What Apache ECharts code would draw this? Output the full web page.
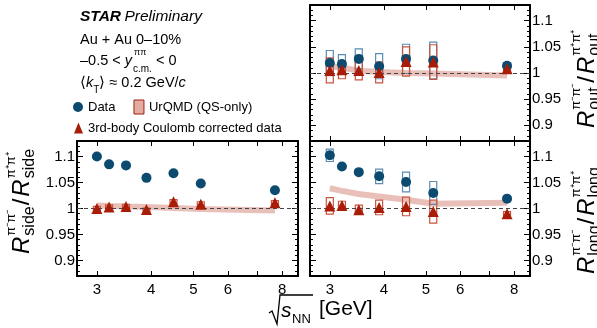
<!DOCTYPE html>
<html>
<head>
<meta charset="utf-8">
<script src="https://cdn.jsdelivr.net/npm/echarts@6/dist/echarts.min.js"></script>
<style>
  html, body { margin: 0; padding: 0; background: #fff; }
  #main { width: 597px; height: 328px; }
</style>
</head>
<body>
<div id="main"></div>
<script>
// HBT radii ratio pi-pi- / pi+pi+ vs collision energy, three panels (out, side, long)
const FONT = '"Liberation Sans", Arial, sans-serif';

const energies = [3.0, 3.2, 3.5, 3.9, 4.5, 5.2, 7.7];

const outData = [1.019, 1.017, 1.027, 1.013, 1.027, 1.024, 1.014];
const outDataSys = [0.024, 0.018, 0.019, 0.024, 0.028, 0.035, 0.006];
const outCorr = [1.005, 1.006, 1.005, 1.001, 1.022, 1.021, 1.008];
const outCorrSys = [0.024, 0.017, 0.018, 0.020, 0.028, 0.033, 0.005];
const outUrqmd = [1.0135, 1.010, 1.0045, 1.002, 1.000, 0.999, 0.995];

const sideData = [1.100, 1.085, 1.083, 1.059, 1.068, 1.048, 1.035];
const sideDataSys = [0, 0, 0, 0, 0, 0, 0];
const sideCorr = [1.000, 1.003, 1.004, 0.998, 1.013, 1.008, 1.011];
const sideCorrSys = [0.004, 0.004, 0.004, 0.003, 0.004, 0.005, 0.004];
const sideUrqmd = [1.006, 1.005, 1.004, 1.003, 1.001, 0.999, 0.996];

const longData = [1.1025, 1.081, 1.070, 1.062, 1.051, 1.030, 1.019];
const longDataSys = [0.012, 0.004, 0.004, 0.014, 0.019, 0.022, 0.003];
const longCorr = [1.005, 1.006, 0.9975, 1.002, 1.004, 0.994, 0.990];
const longCorrSys = [0.016, 0.008, 0.009, 0.014, 0.018, 0.022, 0.004];
const longUrqmd = [1.039, 1.034, 1.028, 1.023, 1.017, 1.009, 1.011];

const xTicks = [3, 4, 5, 6, 7, 8];
const xLabels = [3, 4, 5, 6, 8];
const yLabels = [0.9, 0.95, 1, 1.05, 1.1];
const yMinor = [0.87, 0.88, 0.89, 0.9, 0.91, 0.92, 0.93, 0.94, 0.95, 0.96, 0.97, 0.98, 0.99, 1,
  1.01, 1.02, 1.03, 1.04, 1.05, 1.06, 1.07, 1.08, 1.09, 1.1, 1.11, 1.12, 1.13];

const BLUE = '#0c4a70';
const RED = '#a81c08';
const BLUE_BOX = '#5a8cb4';
const RED_BOX = '#c9553f';
const BAND = 'rgba(214,140,128,0.55)';

const lg = v => Math.log10(v);

const panels = [
  { grid: { left: 310, top: 5, width: 220, height: 136 }, xLab: false, ySide: 'right',
    data: outData, dataSys: outDataSys, corr: outCorr, corrSys: outCorrSys, urqmd: outUrqmd },
  { grid: { left: 77, top: 141, width: 221, height: 135 }, xLab: true, ySide: 'left',
    data: sideData, dataSys: sideDataSys, corr: sideCorr, corrSys: sideCorrSys, urqmd: sideUrqmd },
  { grid: { left: 310, top: 141, width: 220, height: 135 }, xLab: true, ySide: 'right',
    data: longData, dataSys: longDataSys, corr: longCorr, corrSys: longCorrSys, urqmd: longUrqmd }
];

function xAxisCfg(gi, pos, showLabel) {
  return {
    type: 'value', gridIndex: gi, position: pos, min: lg(2.7), max: lg(8.7),
    axisLine: { show: true, onZero: false, lineStyle: { color: '#000', width: 2 } },
    axisTick: { show: true, inside: true, length: 5, customValues: xTicks.map(lg),
      lineStyle: { color: '#000', width: 1 } },
    axisLabel: { show: showLabel, customValues: xLabels.map(lg), margin: 6,
      formatter: v => String(Math.round(Math.pow(10, v))),
      color: '#000', fontSize: 15, fontFamily: FONT },
    splitLine: { show: false }
  };
}

function yAxisCfg(gi, pos, minor, showLabel) {
  return {
    type: 'value', gridIndex: gi, position: pos, min: 0.87, max: 1.13,
    axisLine: { show: !minor, onZero: false, lineStyle: { color: '#000', width: 2 } },
    axisTick: { show: true, inside: true, length: minor ? 3 : 6,
      customValues: minor ? yMinor : yLabels, lineStyle: { color: '#000', width: 1 } },
    axisLabel: { show: showLabel, customValues: yLabels, margin: 2,
      color: '#000', fontSize: 15, fontFamily: FONT },
    splitLine: { show: false }
  };
}

function boxSeries(name, xi, yi, vals, sys, color) {
  return {
    type: 'custom', name: name, xAxisIndex: xi, yAxisIndex: yi, silent: true, z: 3,
    data: energies.map((e, k) => [lg(e), vals[k], sys[k]]).filter(d => d[2] > 0),
    renderItem: (params, api) => {
      const top = api.coord([api.value(0), api.value(1) + api.value(2)]);
      const bot = api.coord([api.value(0), api.value(1) - api.value(2)]);
      return {
        type: 'rect',
        shape: { x: top[0] - 3.5, y: top[1], width: 7, height: bot[1] - top[1] },
        style: { fill: 'none', stroke: color, lineWidth: 1.2 }
      };
    }
  };
}

const grids = [], xAxes = [], yAxes = [], series = [];
panels.forEach((p, i) => {
  grids.push(p.grid);
  xAxes.push(xAxisCfg(i, 'bottom', p.xLab));
  xAxes.push(xAxisCfg(i, 'top', false));
  yAxes.push(yAxisCfg(i, 'left', false, p.ySide === 'left'));
  yAxes.push(yAxisCfg(i, 'left', true, false));
  yAxes.push(yAxisCfg(i, 'right', false, p.ySide === 'right'));
  yAxes.push(yAxisCfg(i, 'right', true, false));
  const xi = 2 * i, yi = 4 * i;
  series.push({
    name: 'UrQMD (QS-only)', type: 'line', xAxisIndex: xi, yAxisIndex: yi,
    data: energies.map((e, k) => [lg(e), p.urqmd[k]]),
    showSymbol: false, smooth: false, z: 1,
    lineStyle: { color: BAND, width: 6 },
    itemStyle: { color: BAND },
    markLine: {
      silent: true, symbol: 'none', label: { show: false },
      lineStyle: { color: '#444', type: [4, 3], width: 1 },
      data: [{ yAxis: 1 }]
    }
  });
  series.push(boxSeries('dataSys', xi, yi, p.data, p.dataSys, BLUE_BOX));
  series.push(boxSeries('corrSys', xi, yi, p.corr, p.corrSys, RED_BOX));
  series.push({
    name: 'Data', type: 'scatter', xAxisIndex: xi, yAxisIndex: yi, z: 4,
    symbol: 'circle', symbolSize: 10,
    data: energies.map((e, k) => [lg(e), p.data[k]]),
    itemStyle: { color: BLUE, opacity: 1 }
  });
  series.push({
    name: '3rd-body Coulomb corrected data', type: 'scatter', xAxisIndex: xi, yAxisIndex: yi, z: 5,
    symbol: 'triangle', symbolSize: [11, 11],
    data: energies.map((e, k) => [lg(e), p.corr[k]]),
    itemStyle: { color: RED, opacity: 1 }
  });
});

// text helpers
const ctx = document.createElement('canvas').getContext('2d');
function textWidth(str, font) { ctx.font = font; return ctx.measureText(str).width; }
function txt(text, x, y, font) {
  return { type: 'text', x: x, y: y,
    style: { text: text, font: font, fill: '#000', textVerticalAlign: 'middle', verticalAlign: 'middle' } };
}
function chain(x, y, parts) {
  let pos = x;
  return parts.map(p => {
    const el = txt(p.t, pos + (p.dx || 0), y + (p.dy || 0), p.f);
    if (!p.stack) pos += textWidth(p.t, p.f) + (p.dx || 0);
    return el;
  });
}

function yTitle(sub, x, y) {
  const big = 'italic 24px ' + FONT, slash = '24px ' + FONT;
  const supF = '13px ' + FONT, subF = '16px ' + FONT;
  const children = [];
  let pos = 0;
  ['π⁻π⁻', 'π⁺π⁺'].forEach((sup, k) => {
    if (k === 1) {
      children.push(txt('/', pos + 1, 0, slash));
      pos += textWidth('/', slash) + 3;
    }
    children.push(txt('R', pos, 0, big));
    pos += textWidth('R', big) + 1;
    children.push(txt(sup, pos, -11, supF));
    children.push(txt(sub, pos, 8, subF));
    pos += Math.max(textWidth(sup, supF), textWidth(sub, subF));
  });
  return { type: 'group', x: x, y: y, rotation: Math.PI / 2, children: children };
}

const f14 = '14.5px ' + FONT, i14 = 'italic 14.5px ' + FONT;
const graphics = [
  { type: 'text', x: 80, y: 17, style: {
    text: '{b|STAR} {i|Preliminary}', fill: '#000', verticalAlign: 'middle', textVerticalAlign: 'middle',
    rich: { b: { fontWeight: 'bold', fontStyle: 'italic', fontSize: 15.5, fontFamily: FONT },
            i: { fontStyle: 'italic', fontSize: 15.5, fontFamily: FONT } } } },
  txt('Au + Au 0–10%', 80, 40, f14)
].concat(chain(80, 61, [
  { t: '–0.5 < ', f: f14 },
  { t: 'y', f: i14 },
  { t: 'ππ', f: '9px ' + FONT, dy: -8, dx: 2, stack: true },
  { t: 'c.m.', f: '10px ' + FONT, dy: 8, dx: 1 },
  { t: ' < 0', f: f14 }
])).concat(chain(80, 83, [
  { t: '⟨', f: f14 },
  { t: 'k', f: i14 },
  { t: 'T', f: '10px ' + FONT, dy: 7 },
  { t: '⟩ ≈ 0.2 GeV/', f: f14 },
  { t: 'c', f: i14 }
])).concat([
  yTitle('out', 587, 128),
  yTitle('side', 22, 254),
  yTitle('long', 587, 274),
  { type: 'polyline', shape: { points: [[269, 313], [272, 311], [277, 324], [280, 295], [313, 295]] },
    style: { stroke: '#000', lineWidth: 1.3, fill: 'none' } },
  txt('s', 281, 311, 'italic 21px ' + FONT),
  txt('NN', 292, 319, '13px ' + FONT),
  txt('[GeV]', 319, 309, '21px ' + FONT)
]);

const chart = echarts.init(document.getElementById('main'), null, { renderer: 'canvas' });
chart.setOption({
  animation: false,
  backgroundColor: '#fff',
  grid: grids,
  xAxis: xAxes,
  yAxis: yAxes,
  legend: [
    { left: 73, top: 99.5, padding: 0, itemWidth: 10, itemHeight: 14, itemGap: 18,
      textStyle: { color: '#000', fontSize: 13, fontFamily: FONT },
      data: [
        { name: 'Data', icon: 'circle', itemStyle: { color: BLUE } },
        { name: 'UrQMD (QS-only)', icon: 'rect',
          itemStyle: { color: 'rgb(226,172,162)', borderColor: '#a02010', borderWidth: 1 } }
      ] },
    { left: 74, top: 121.5, padding: 0, itemWidth: 9, itemHeight: 11,
      textStyle: { color: '#000', fontSize: 13, fontFamily: FONT },
      data: [{ name: '3rd-body Coulomb corrected data', icon: 'triangle', itemStyle: { color: RED } }] }
  ],
  graphic: graphics,
  series: series
});
</script>
</body>
</html>
